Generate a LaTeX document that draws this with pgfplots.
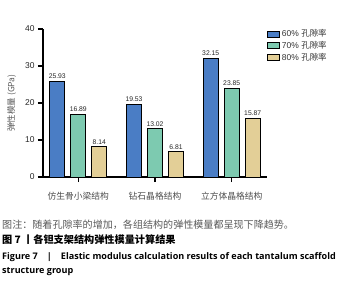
\documentclass[border=0pt]{standalone}
\usepackage{pgfplots}
\pgfplotsset{compat=1.18}
\usepackage{fontspec}
\setmainfont{Liberation Sans}
\newfontfamily\cjk{Noto Sans CJK SC}
\newfontfamily\osans{Open Sans}
\definecolor{cblue}{HTML}{4A7DC5}
\definecolor{cgreen}{HTML}{7DCAB0}
\definecolor{ctan}{HTML}{E3CF97}
\begin{document}
\begin{tikzpicture}
\useasboundingbox (0,0) rectangle (353bp,-282bp);
\begin{axis}[
  at={(43bp,-177bp)}, anchor=south west,
  scale only axis, width=224bp, height=148bp,
  xmin=-0.46, xmax=2.46, ymin=0, ymax=40,
  axis lines*=left,
  axis line style={black, line width=1.2bp},
  ytick={0,10,20,30,40},
  xtick={0,1,2},
  xticklabels={仿生骨小梁结构,钻石晶格结构,立方体晶格结构},
  tick align=outside,
  major tick length=5bp,
  tick style={black, line width=1.2bp},
  /pgf/number format/assume math mode=true,
  yticklabel style={font=\fontsize{8.5}{9}\selectfont, text=black!85},
  xticklabel style={font=\cjk\fontsize{8.8}{10}\selectfont, text=black!70, yshift=-7bp},
  ylabel={\cjk 弹性模量 (GPa)},
  ylabel style={font=\fontsize{8.5}{9}\selectfont, text=black!65, at={(axis description cs:-0.14,0.5)}, anchor=center},
  ybar, bar width=15bp,
  nodes near coords,
  nodes near coords style={font=\fontsize{6.8}{7}\selectfont, text=black!85, yshift=-1bp},
  point meta=explicit symbolic,
  legend style={at={(1.0,1.01)}, anchor=north west, draw=none, fill=none,
    font=\fontsize{8.5}{9}\selectfont, text=black!80, row sep=-1bp, inner sep=0pt,
    cells={anchor=west}},
  legend image code/.code={\draw[#1, line width=0.8bp] (0bp,-3bp) rectangle (12bp,3bp);},
]
\addplot[fill=cblue, draw=black, line width=0.8bp, bar shift=-21bp] coordinates {(0,25.93)[25.93] (1,19.53)[19.53] (2,32.15)[32.15]};
\addplot[fill=cgreen, draw=black, line width=0.8bp, bar shift=0bp] coordinates {(0,16.89)[16.89] (1,13.02)[13.02] (2,23.85)[23.85]};
\addplot[fill=ctan, draw=black, line width=0.8bp, bar shift=21bp] coordinates {(0,8.14)[8.14] (1,6.81)[6.81] (2,15.87)[15.87]};
\legend{60\% {\cjk 孔隙率},70\% {\cjk 孔隙率},80\% {\cjk 孔隙率}}
\end{axis}
\node[anchor=west, inner sep=0pt, text=black!65, font=\cjk\fontsize{10.1}{11}\selectfont] at (2bp,-225bp) {图注：随着孔隙率的增加，各组结构的弹性模量都呈现下降趋势。};
\node[anchor=west, inner sep=0pt, text=black, font=\cjk\bfseries\fontsize{10.2}{11}\selectfont] at (2bp,-240bp) {图 7 丨各钽支架结构弹性模量计算结果};
\node[anchor=west, inner sep=0pt, text=black, font=\osans\bfseries\fontsize{9.1}{10}\selectfont] at (2bp,-257bp) {Figure 7\quad|\quad Elastic modulus calculation results of each tantalum scaffold};
\node[anchor=west, inner sep=0pt, text=black, font=\osans\bfseries\fontsize{9.1}{10}\selectfont] at (2bp,-272bp) {structure group};
\end{tikzpicture}
\end{document}
